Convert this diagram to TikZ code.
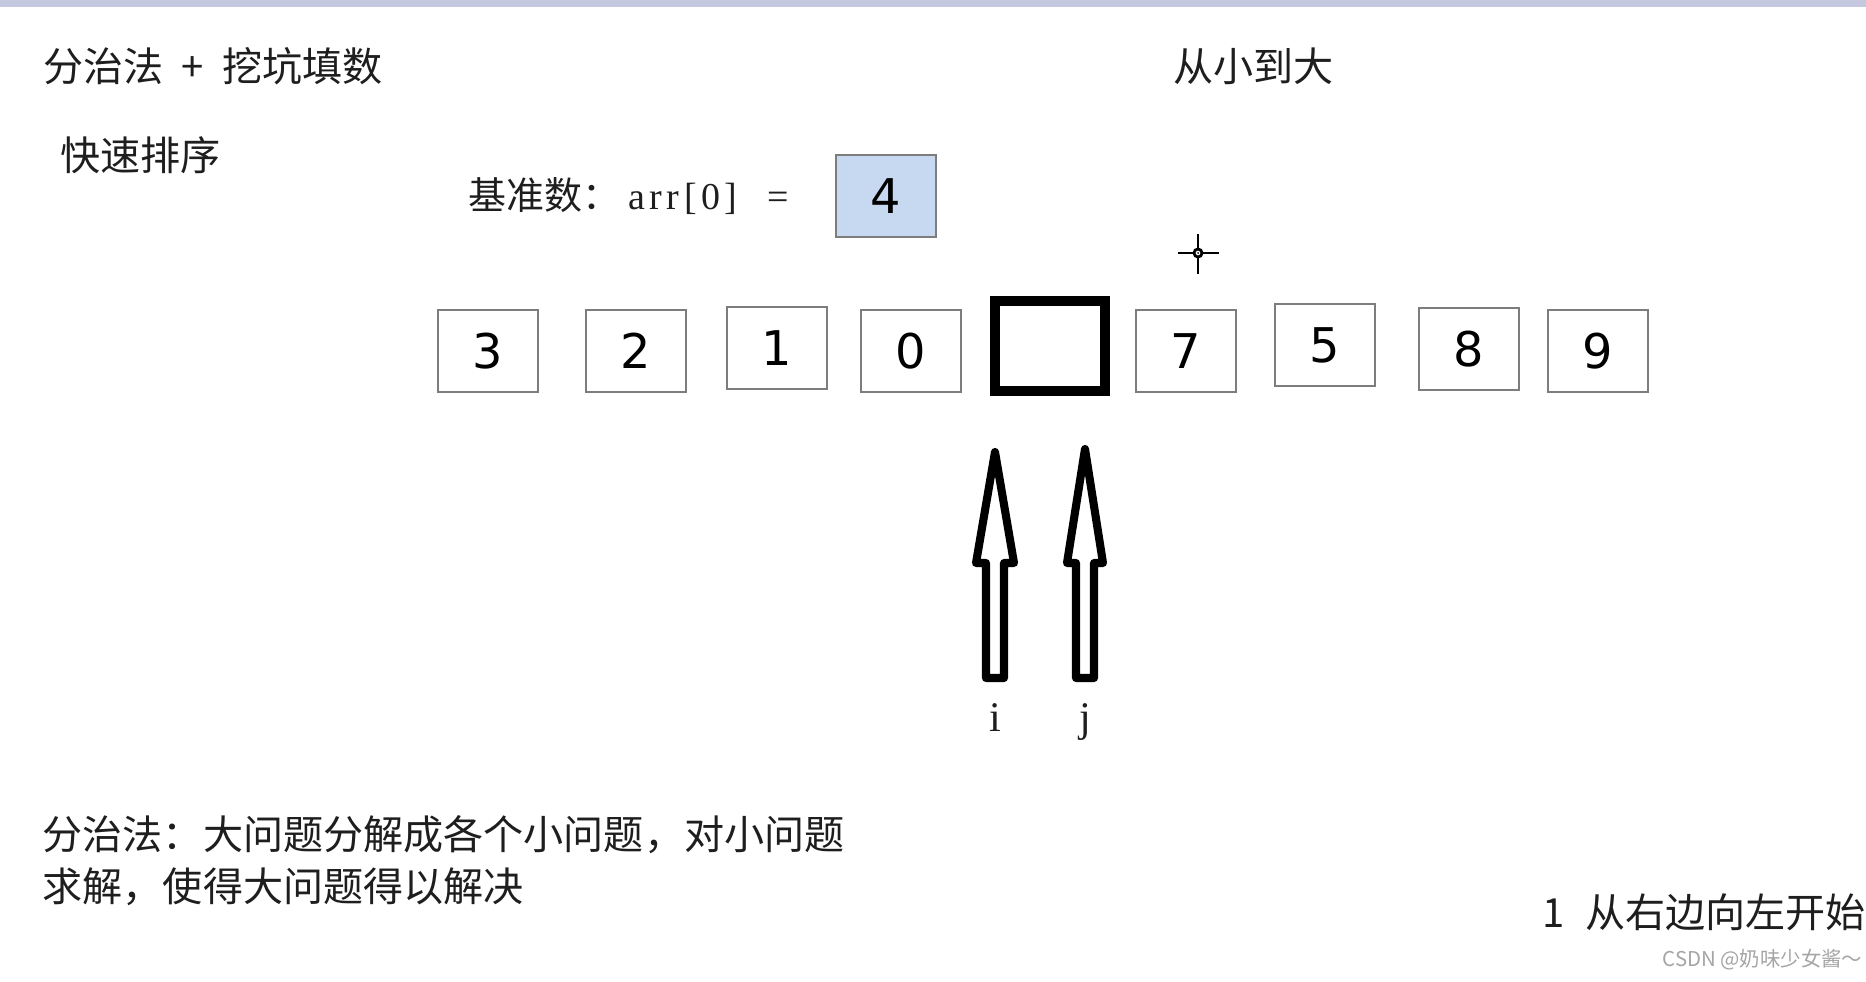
\documentclass[tikz,border=0pt]{standalone}
\usepackage{fontspec}
\setmainfont{Liberation Serif}
\newfontfamily\cjk{Noto Sans CJK SC}
\newfontfamily\digitfont{DejaVu Sans}
\newfontfamily\spacedserif[LetterSpace=12]{Liberation Serif}
\usepackage{xcolor}
\usepackage{tikz}
\definecolor{topband}{RGB}{196,201,224}
\definecolor{boxline}{RGB}{125,125,125}
\definecolor{pivotfill}{RGB}{198,217,241}
\definecolor{inkgray}{RGB}{30,30,30}
\definecolor{markgray}{RGB}{165,165,165}

\begin{document}
\begin{tikzpicture}[x=0.01cm,y=-0.01cm,
  cell/.style={draw=boxline,line width=0.7pt,minimum width=1cm,minimum height=0.815cm,inner sep=0pt,font=\digitfont\fontsize{13.6}{16}\selectfont},
  hole/.style={draw,line width=2.8pt,minimum width=1.1cm,minimum height=0.9cm,inner sep=0pt},
  note/.style={anchor=west,inner sep=0pt,text=inkgray,font=\cjk\fontsize{11.4}{14}\selectfont},
  pointer/.style={line width=2.3pt,line join=round},
  idx/.style={anchor=base,inner sep=0pt,text=inkgray,font=\fontsize{12}{14}\selectfont}]
\useasboundingbox (0,0) rectangle (1866,981);
\fill[white] (0,0) rectangle (1866,981);
\fill[topband] (0,0) rectangle (1866,7);
%
\node (t) at (43,66) [note] {分治法\hspace{0.45em}+\hspace{0.45em}挖坑填数};
\node (u) at (1173,66) [note] {从小到大};
\node (q) at (60,155) [note] {快速排序};
\node (b) at (468,196) [note,font=\fontsize{10.8}{13}\selectfont] {{\cjk 基准数：}\hspace{0.2em}{\spacedserif arr[0]}\hspace{0.8em}=};
\node (p) at (886,196) [cell,fill=pivotfill] {4};
%%
\node (1) at (488,351) [cell] {3};
\node (2) at (636,351) [cell] {2};
\node (3) at (777,348) [cell] {1};
\node (4) at (911,351) [cell] {0};
\node (5) at (1050,346) [hole] {};
\node (6) at (1186,351) [cell] {7};
\node (7) at (1325,345) [cell] {5};
\node (8) at (1469,349) [cell] {8};
\node (9) at (1598,351) [cell] {9};
%%
\draw [line width=0.8pt] (1198,234) -- (1198,274);
\draw [line width=0.8pt] (1178,253) -- (1219,253);
\draw [line width=0.8pt,fill=white] (1198,253) circle [radius=4];
\fill (1198,253) circle [radius=1];
%%
\draw [pointer] (995,452) -- (1014,563) -- (1004,563) -- (1004,678) -- (986,678) -- (986,563) -- (976,563) -- cycle;
\draw [pointer] (1085,449) -- (1103,563) -- (1094,563) -- (1094,678) -- (1076,678) -- (1076,563) -- (1067,563) -- cycle;
\node (i) at (995,731) [idx] {i};
\node (j) at (1085,731) [idx] {j};
%%
\node (d1) at (42,835) [note] {分治法：大问题分解成各个小问题，对小问题};
\node (d2) at (42,887) [note] {求解，使得大问题得以解决};
\node (r) at (1542,912) [note] {1\hspace{0.5em}{\cjk 从右边向左开始}};
\node (w) at (1662,960) [note,text=markgray,font=\cjk\fontsize{5.8}{7}\selectfont] {CSDN @奶味少女酱～};
\end{tikzpicture}
\end{document}
